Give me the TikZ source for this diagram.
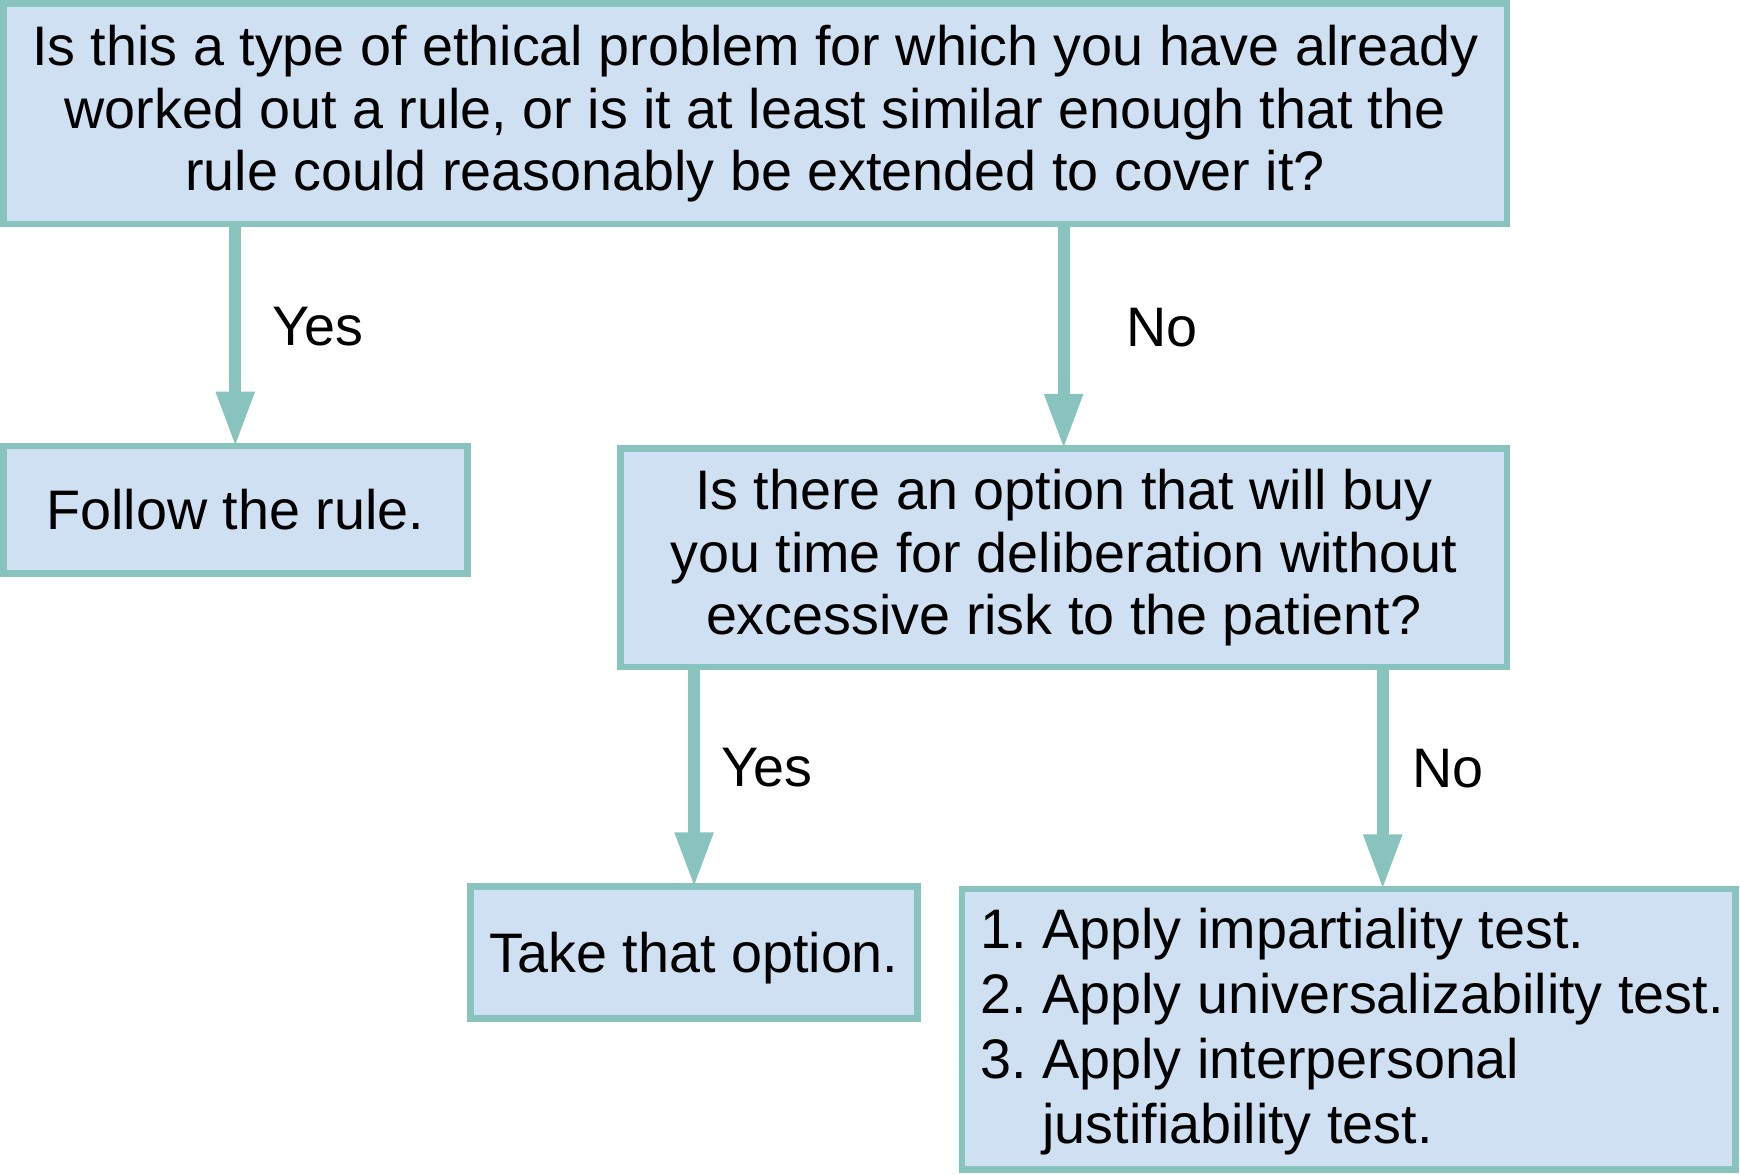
\documentclass[tikz,border=0pt]{standalone}
\usepackage{fontspec}
\setmainfont{Liberation Sans}
\usetikzlibrary{arrows.meta,calc}
\definecolor{boxfill}{RGB}{207,224,242}
\definecolor{tealline}{RGB}{136,195,189}
\begin{document}
\begin{tikzpicture}[x=0.5pt,y=-0.5pt,
  box/.style={draw=tealline, fill=boxfill, line width=3pt, inner sep=0pt, align=center,
    font=\fontsize{25.1}{28}\selectfont},
  flow/.style={draw=tealline, line width=5.5pt, -{Triangle[length=25pt,width=16pt]}, shorten >=-2pt},
  lbl/.style={font=\fontsize{25.1}{28}\selectfont, inner sep=0pt, anchor=west, text=black}]
\useasboundingbox (0,0) rectangle (1568,1058);
\node[box, minimum width=677.5pt, minimum height=99.5pt] (top) at (680.5,102.5)
  {Is this a type of ethical problem for which you have already\\
   worked out a rule, or is it at least similar enough that the\\
   rule could reasonably be extended to cover it?};
\node[box, minimum width=209pt, minimum height=57.5pt] (follow) at (212,459.5) {Follow the rule.};
\node[box, minimum width=399.5pt, minimum height=98.5pt] (mid) at (958.5,502.5)
  {Is there an option that will buy\\
   you time for deliberation without\\
   excessive risk to the patient?};
\node[box, minimum width=201.5pt, minimum height=59.5pt, text depth=0pt] (take) at (625.5,858.5) {Take that option.};
\node[box, minimum width=348.5pt, minimum height=126.5pt, font=\fontsize{25.1}{29.3}\selectfont] (apply) at (1215.5,927.5)
  {\hspace*{3pt}\raisebox{-1.5pt}[\height][\depth]{\begin{tabular}{@{}r@{~}l@{}}
   1. & Apply impartiality test.\\
   2. & Apply universalizability test.\\
   3. & Apply interpersonal\\
      & justifiability test.
   \end{tabular}}};
\draw[flow] (top.south -| follow.north) -- node[lbl, pos=0.46, xshift=14pt] {Yes} (follow.north);
\draw[flow] (top.south -| mid.north) -- node[lbl, pos=0.46, xshift=25.5pt] {No} (mid.north);
\draw[flow] (mid.south -| take.north) -- node[lbl, pos=0.455, xshift=9.5pt] {Yes} (take.north);
\draw[flow] ([xshift=15.25pt]apply.north |- mid.south) -- node[lbl, pos=0.455, xshift=10.5pt] {No} ([xshift=15.25pt]apply.north);
\end{tikzpicture}
\end{document}
